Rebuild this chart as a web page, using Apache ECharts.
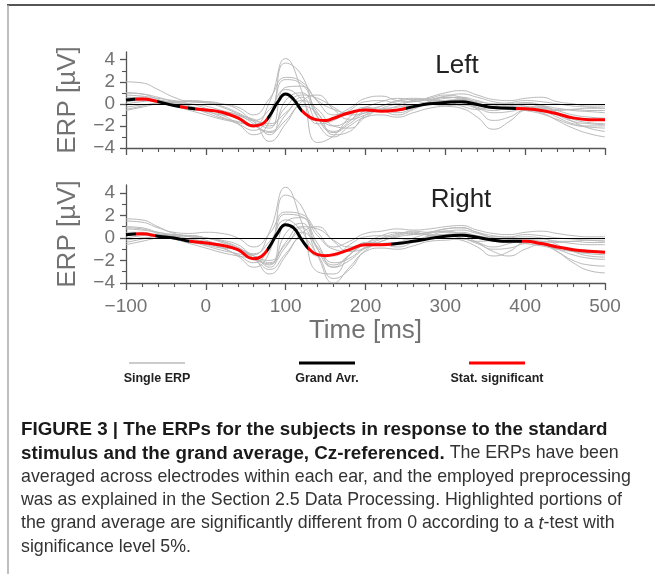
<!DOCTYPE html>
<html lang="en">
<head>
<meta charset="UTF-8">
<title>ERPs, Cz-referenced</title>
<script src="https://cdn.jsdelivr.net/npm/echarts@6/dist/echarts.min.js"></script>
<style>
    html, body { margin: 0; padding: 0; background: #fff; }
    #chart { width: 655px; height: 574px; }
</style>
</head>
<body>
<div id="chart"></div>
<script>
// sample times of the single ERPs (ms)
var times = [-100, -80, -60, -40, -20, 0, 20, 40, 60, 80, 100, 120, 140, 160, 180, 200,
             220, 240, 260, 280, 300, 320, 340, 360, 380, 400, 420, 440, 460, 480, 500];

// single subject ERPs, left ear (uV)
var leftSingles = [
    [0.5, 0.6, 0.3, 0.0, -0.3, -0.5, -0.8, -1.2, -1.9, 0.2, 4.1, 1.2, -3.5, -2.9, -1.2, -0.3, -0.5, -0.2, 0.3, 0.5, 0.8, 0.6, 0.1, -0.4, -0.2, 0.1, -0.3, -1.0, -1.6, -1.8, -1.9],
    [-0.5, -0.2, 0.1, 0.2, 0.0, -0.4, -1.0, -1.8, -2.8, -1.5, 3.7, 2.6, -1.2, -2.6, -1.8, -0.8, -0.6, -0.8, -0.4, 0.2, 0.6, 0.4, -0.5, -1.5, -1.2, -0.6, -0.8, -1.5, -2.2, -2.7, -3.0],
    [2.0, 1.9, 1.3, 0.6, 0.2, 0.1, 0.0, -0.3, -1.0, 0.5, 2.4, 2.0, 0.2, -1.0, -0.4, 0.5, 0.7, 0.3, 0.2, 0.6, 1.0, 1.2, 0.8, 0.4, 0.3, 0.5, 0.6, 0.2, 0.0, -0.2, -0.2],
    [1.0, 0.9, 0.6, 0.2, -0.2, -0.6, -1.2, -1.8, -2.4, -1.0, 2.2, 1.8, -0.8, -2.0, -1.5, -0.6, -0.2, 0.3, 0.5, 0.4, 0.2, 0.1, -0.3, -0.6, -0.3, 0.0, -0.2, -0.6, -1.0, -1.2, -1.3],
    [0.8, 0.7, 0.5, 0.3, 0.2, 0.2, 0.0, -0.5, -1.6, -2.2, 1.5, 1.6, 0.3, -0.5, -0.8, -0.3, 0.2, 0.5, 0.3, 0.0, -0.2, -0.4, -1.2, -2.3, -1.6, -0.5, -0.2, -0.4, -0.6, -0.7, -0.8],
    [0.3, 0.4, 0.3, 0.1, 0.0, -0.2, -0.6, -1.0, -1.4, -2.0, -0.3, 0.8, 0.5, -0.3, -1.0, -0.8, -0.2, 0.2, 0.4, 0.3, 0.5, 0.6, 0.3, 0.0, 0.1, 0.3, 0.2, 0.0, -0.2, -0.3, -0.4],
    [0.0, 0.2, 0.3, 0.2, 0.3, 0.2, -0.2, -0.8, -1.5, -1.8, -0.8, 0.3, -0.5, -2.0, -2.2, -1.2, -0.5, -0.3, -0.1, 0.1, 0.3, 0.2, -0.1, -0.4, -0.5, -0.3, -0.5, -1.2, -1.8, -2.0, -2.0],
    [-0.3, -0.1, 0.0, -0.2, -0.6, -1.0, -1.4, -1.7, -2.0, -2.6, -1.5, -0.2, -0.9, -2.8, -2.5, -1.0, -0.5, -0.6, -0.3, 0.0, 0.2, -0.2, -0.5, -0.2, 0.0, 0.1, -0.1, -0.8, -1.6, -2.2, -2.5],
    [-0.6, -0.3, 0.0, 0.1, 0.2, 0.1, -0.3, -0.9, -1.6, -3.4, -1.8, 0.2, 0.8, -0.5, -1.4, -1.0, -0.4, 0.0, 0.2, 0.4, 0.7, 0.9, 0.6, 0.2, 0.0, -0.2, -0.5, -0.6, -0.5, -0.4, -0.4],
    [0.2, 0.3, 0.2, 0.0, -0.3, -0.8, -1.3, -1.6, -2.0, -2.5, -1.0, 0.6, -1.8, -3.0, -2.0, -1.2, -1.0, -1.2, -0.8, -0.4, -0.2, -0.1, -0.4, -0.8, -0.7, -0.4, -0.3, -0.8, -1.4, -1.7, -1.8],
    [1.0, 0.9, 0.4, -0.1, -0.4, -0.7, -1.0, -1.1, -1.5, -0.5, 1.3, 0.4, -1.8, -1.5, -0.6, 0.2, 0.3, 0.0, -0.2, 0.2, 0.6, 0.5, 0.2, 0.0, -0.2, -0.3, -0.4, -0.5, -0.5, -0.6, -0.6],
    [0.6, 0.5, 0.2, -0.2, -0.5, -0.6, -0.7, -1.0, -1.8, -2.8, 0.3, 1.0, -1.2, -2.5, -1.6, -0.4, -0.6, -1.0, -0.5, 0.1, 0.3, 0.4, 0.1, -0.3, -0.4, -0.6, -0.9, -1.4, -1.9, -2.1, -2.2]
];

// single subject ERPs, right ear (uV)
var rightSingles = [
    [1.7, 1.6, 1.0, 0.4, 0.1, 0.0, -0.2, -0.6, -1.5, 0.6, 4.5, 1.4, -3.0, -3.2, -1.5, -0.5, 0.2, 0.5, 0.3, 0.5, 0.8, 0.9, 0.5, 0.0, -0.3, -0.2, -0.4, -1.2, -2.2, -2.9, -3.1],
    [-0.4, -0.1, 0.2, 0.3, 0.1, -0.2, -0.8, -1.6, -2.6, -1.2, 3.8, 2.8, -1.0, -2.6, -1.5, -0.5, -0.6, -0.4, 0.0, 0.4, 0.6, 0.3, -0.4, -1.2, -1.6, -1.0, -0.6, -1.0, -1.5, -1.8, -1.9],
    [1.5, 1.4, 0.9, 0.5, 0.4, 0.5, 0.4, 0.0, -0.8, 0.4, 2.3, 2.1, 0.5, -0.8, -0.3, 0.4, 0.6, 0.8, 0.7, 0.8, 1.0, 1.1, 0.7, 0.4, 0.3, 0.5, 0.6, 0.4, 0.2, 0.1, 0.1],
    [1.0, 0.9, 0.5, 0.2, -0.1, -0.4, -0.9, -1.5, -2.2, -0.8, 2.1, 1.9, -0.5, -2.2, -1.8, -0.8, -0.3, 0.2, 0.4, 0.3, 0.2, 0.0, -0.4, -0.8, -0.5, -0.2, -0.4, -0.8, -1.0, -1.1, -1.2],
    [0.8, 0.7, 0.5, 0.3, 0.2, 0.0, -0.3, -0.8, -1.8, -2.4, 1.4, 1.8, 0.2, -1.0, -1.2, -0.5, 0.0, 0.4, 0.5, 0.2, 0.0, -0.2, -0.8, -1.6, -1.2, -0.3, -0.1, -0.3, -0.5, -0.6, -0.6],
    [0.3, 0.4, 0.3, 0.1, -0.1, -0.3, -0.6, -1.1, -1.6, -2.2, -0.4, 1.0, 0.8, -0.2, -0.8, -0.6, -0.1, 0.3, 0.6, 0.5, 0.6, 0.7, 0.4, 0.1, 0.1, 0.3, 0.2, 0.0, -0.1, -0.2, -0.3],
    [0.0, 0.2, 0.3, 0.2, 0.2, 0.0, -0.3, -0.9, -1.6, -2.0, -0.6, 0.5, -0.8, -2.6, -2.0, -0.9, -0.5, -0.4, -0.2, 0.1, 0.3, 0.3, 0.0, -0.3, -0.4, -0.3, -0.5, -1.2, -2.0, -2.4, -2.5],
    [-0.2, 0.0, 0.1, -0.1, -0.5, -0.9, -1.3, -1.6, -1.9, -2.8, -1.4, 0.0, -1.5, -3.6, -2.8, -1.1, -0.6, -0.6, -0.3, 0.0, 0.2, 0.0, -0.3, -0.2, 0.0, 0.1, 0.0, -0.6, -1.2, -1.6, -1.7],
    [-0.6, -0.3, 0.0, 0.1, 0.2, 0.0, -0.4, -1.0, -1.8, -3.2, -1.6, 0.4, 1.0, -0.3, -1.2, -0.9, -0.3, 0.1, 0.3, 0.5, 0.8, 0.9, 0.5, 0.2, 0.0, -0.1, -0.3, -0.4, -0.3, -0.2, -0.2],
    [0.2, 0.3, 0.2, 0.0, -0.3, -0.7, -1.1, -1.4, -1.8, -2.3, -0.8, 0.9, -1.6, -4.0, -2.6, -1.2, -0.9, -1.0, -0.7, -0.3, -0.2, -0.1, -0.5, -1.0, -0.9, -0.5, -0.4, -0.8, -1.2, -1.4, -1.5],
    [0.9, 0.8, 0.4, 0.0, -0.3, -0.6, -0.9, -1.0, -1.4, -0.3, 1.6, 0.6, -1.6, -1.6, -0.6, 0.1, 0.2, 0.0, -0.2, 0.2, 0.5, 0.5, 0.2, 0.0, -0.1, -0.2, -0.3, -0.3, -0.3, -0.4, -0.4],
    [0.5, 0.5, 0.2, -0.1, -0.4, -0.5, -0.6, -0.9, -1.6, -2.6, 0.4, 1.3, -1.0, -2.4, -1.5, -0.4, -0.5, -0.8, -0.4, 0.1, 0.3, 0.4, 0.1, -0.2, -0.3, -0.5, -0.7, -1.0, -1.2, -1.3, -1.3]
];

// grand average (denser around the peak)
var avgTimes = [-100, -80, -60, -40, -20, 0, 20, 40, 60, 70, 80, 90, 100, 110, 120, 130, 140, 150, 160, 180,
                200, 220, 240, 260, 280, 300, 320, 340, 360, 380, 400, 420, 440, 460, 480, 500];
var leftAvg = [0.36, 0.45, 0.2, -0.15, -0.4, -0.55, -0.76, -1.27, -2.0, -1.85, -1.06, 0.15, 0.9, 0.4, -0.6, -1.2, -1.45, -1.5, -1.3, -0.8,
               -0.55, -0.67, -0.55, -0.25, 0.0, 0.12, 0.2, -0.06, -0.34, -0.4, -0.45, -0.6, -0.9, -1.27, -1.43, -1.45];
var rightAvg = [0.29, 0.38, 0.15, 0.0, -0.3, -0.45, -0.65, -1.04, -1.84, -1.63, -0.74, 0.44, 1.18, 0.89, -0.15, -1.04, -1.48, -1.57, -1.48, -1.04,
                -0.6, -0.6, -0.5, -0.3, -0.06, 0.15, 0.23, 0.06, -0.2, -0.3, -0.3, -0.5, -0.8, -1.04, -1.19, -1.28];

// significant stretches of the grand average (ms)
var leftSig = [[-89, -61], [-32, -22], [-14, 77], [121, 251], [389, 500]];
var rightSig = [[-87, -64], [-21, 77], [128, 232], [396, 500]];

var yMajor = [-4, -2, 0, 2, 4];
var yMinor = [-3, -1, 1, 3];

var legendNames = ['Single ERP', 'Grand Avr.', 'Stat. significant'];
var captionLines = [
    '{b|FIGURE 3 | The ERPs for the subjects in response to the standard}',
    '{b|stimulus and the grand average, Cz-referenced.} The ERPs have been',
    'averaged across electrodes within each ear, and the employed preprocessing',
    'was as explained in the Section 2.5 Data Processing. Highlighted portions of',
    'the grand average are significantly different from 0 according to a {i|t}-test with',
    'significance level 5%.'
];

var FONT = 'Liberation Sans, Arial, Helvetica, sans-serif';
var AXIS_COLOR = '#555';
var LABEL_COLOR = '#727272';

function pairs(ts, vs) {
    return ts.map(function (t, i) { return [t, vs[i]]; });
}
function minus(v) {
    return v < 0 ? '\u2212' + Math.abs(v) : String(v);
}

var chart = echarts.init(document.getElementById('chart'), null, {renderer: 'canvas'});

var grids = [
    {left: 126, right: 50, top: 52, height: 96},
    {left: 126, right: 50, top: 185, height: 98}
];

var xAxes = [0, 1].map(function (g) {
    return {
        type: 'value', gridIndex: g, min: -100, max: 500, interval: 100,
        name: g === 1 ? 'Time [ms]' : '', nameLocation: 'middle', nameGap: 35,
        nameTextStyle: {fontFamily: FONT, fontSize: 26, color: LABEL_COLOR},
        axisLine: {show: true, onZero: false, lineStyle: {color: AXIS_COLOR, width: 1.3}},
        axisTick: {show: true, length: 7, lineStyle: {color: AXIS_COLOR, width: 1.3}},
        minorTick: {show: true, splitNumber: 5, length: 4, lineStyle: {color: AXIS_COLOR, width: 1.1}},
        axisLabel: {show: g === 1, formatter: minus, fontFamily: FONT, fontSize: 19, color: LABEL_COLOR, margin: 14},
        splitLine: {show: false}
    };
});

var yAxes = [];
[0, 1].forEach(function (g) {
    yAxes.push({
        type: 'value', gridIndex: g, position: 'left', min: -4, max: 4.7,
        name: 'ERP [\u00b5V]', nameLocation: 'middle', nameRotate: 90, nameGap: 45,
        nameTextStyle: {fontFamily: FONT, fontSize: 26, color: LABEL_COLOR},
        axisLine: {show: true, onZero: false, lineStyle: {color: AXIS_COLOR, width: 1.3}},
        axisTick: {show: true, length: 6, customValues: yMajor, lineStyle: {color: AXIS_COLOR, width: 1.3}},
        axisLabel: {customValues: yMajor, formatter: minus, fontFamily: FONT, fontSize: 19, color: LABEL_COLOR, margin: 11},
        splitLine: {show: false}
    });
    yAxes.push({
        type: 'value', gridIndex: g, position: 'left', offset: 0, min: -4, max: 4.7,
        axisLine: {show: false, onZero: false},
        axisTick: {show: true, length: 4, customValues: yMinor, lineStyle: {color: AXIS_COLOR, width: 1.1}},
        axisLabel: {show: false},
        splitLine: {show: false}
    });
});

var series = [];
function addPanel(singles, avg, g) {
    singles.forEach(function (s) {
        series.push({
            type: 'line', xAxisIndex: g, yAxisIndex: g * 2, data: pairs(times, s),
            smooth: true, showSymbol: false, silent: true, z: 1,
            lineStyle: {color: '#b9b9b9', width: 1}
        });
    });
    // zero line
    series.push({
        type: 'line', xAxisIndex: g, yAxisIndex: g * 2, data: [], z: 2,
        markLine: {silent: true, symbol: 'none', label: {show: false}, animation: false,
                   lineStyle: {color: '#000', width: 1, type: 'solid'}, data: [{yAxis: 0}]}
    });
    series.push({
        type: 'line', xAxisIndex: g, yAxisIndex: g * 2, data: pairs(avgTimes, avg),
        smooth: true, showSymbol: false, silent: true, z: 3,
        lineStyle: {width: 3}
    });
    return series.length - 1;
}
var leftIdx = addPanel(leftSingles, leftAvg, 0);
var rightIdx = addPanel(rightSingles, rightAvg, 1);

function sigMap(idx, sig) {
    return {
        type: 'piecewise', show: false, seriesIndex: idx, dimension: 0,
        pieces: sig.map(function (p) { return {gte: p[0], lte: p[1], color: '#ff0000'}; }),
        outOfRange: {color: '#000000'}
    };
}

// legend, titles, caption and frame
var graphics = [
    {type: 'line', shape: {x1: 7, y1: 5, x2: 655, y2: 5}, style: {stroke: '#555', lineWidth: 2}},
    {type: 'line', shape: {x1: 8, y1: 5, x2: 8, y2: 574}, style: {stroke: '#aaa', lineWidth: 1.5}},
    {type: 'text', x: 457, y: 66, style: {text: 'Left', font: '26px ' + FONT, fill: '#222', textAlign: 'center', textVerticalAlign: 'middle'}},
    {type: 'text', x: 461, y: 200, style: {text: 'Right', font: '26px ' + FONT, fill: '#222', textAlign: 'center', textVerticalAlign: 'middle'}}
];
var legendColors = ['#cccccc', '#000000', '#ff0000'];
var legendWidths = [2, 3, 3];
var legendX = [157, 327, 497];
legendNames.forEach(function (name, i) {
    graphics.push({type: 'line', shape: {x1: legendX[i] - 28, y1: 363, x2: legendX[i] + 28, y2: 363},
                   style: {stroke: legendColors[i], lineWidth: legendWidths[i]}});
    graphics.push({type: 'text', x: legendX[i], y: 379,
                   style: {text: name, font: 'bold 12.5px ' + FONT, fill: '#222', textAlign: 'center', textVerticalAlign: 'middle'}});
});
captionLines.forEach(function (line, i) {
    graphics.push({
        type: 'text', x: 21, y: 430 + i * 23.4,
        style: {
            text: line, font: '17.8px ' + FONT, fill: '#333', textVerticalAlign: 'middle',
            rich: {
                b: {fontWeight: 'bold', fontSize: 18.8, fontFamily: FONT, fill: '#1a1a1a'},
                i: {fontStyle: 'italic', fontSize: 17.8, fontFamily: FONT, fill: '#333'}
            }
        }
    });
});

chart.setOption({
    animation: false,
    backgroundColor: '#fff',
    grid: grids,
    xAxis: xAxes,
    yAxis: yAxes,
    visualMap: [sigMap(leftIdx, leftSig), sigMap(rightIdx, rightSig)],
    series: series,
    graphic: graphics
});
</script>
</body>
</html>
